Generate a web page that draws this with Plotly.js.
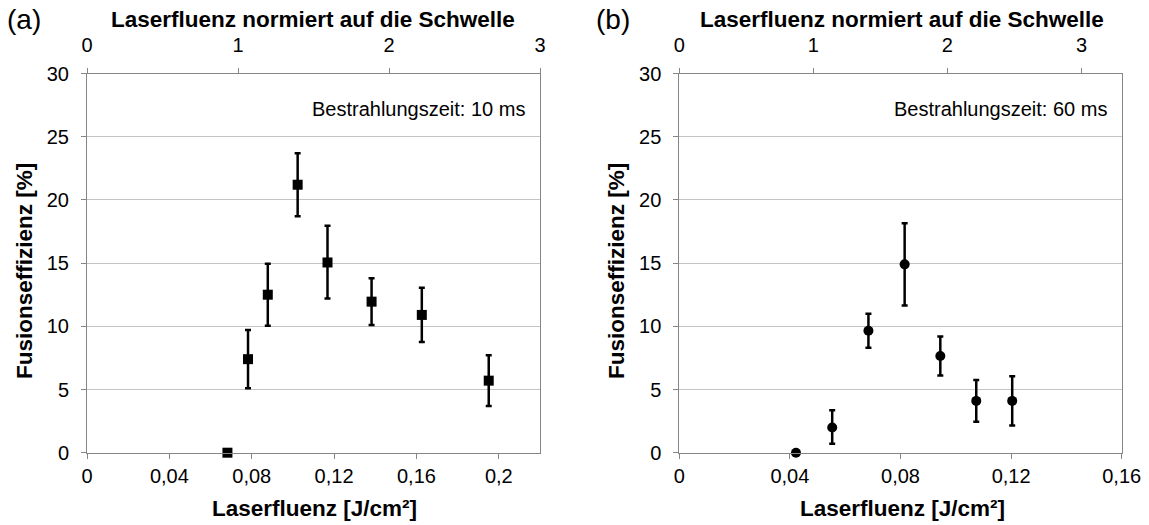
<!DOCTYPE html>
<html>
<head>
<meta charset="utf-8">
<script src="https://cdn.plot.ly/plotly-3.0.1.min.js"></script>
<style>html,body{margin:0;padding:0;background:#fff}#chart{width:1149px;height:525px}</style>
</head>
<body>
<div id="chart"></div>
<script>
// Panel (a): Bestrahlungszeit 10 ms
const fluenceA = [0.0682, 0.0782, 0.0878, 0.1023, 0.1168, 0.1382, 0.1626, 0.1951];
const effA     = [0, 7.4, 12.5, 21.2, 15.05, 11.95, 10.9, 5.7];
const errUpA   = [0, 2.3, 2.45, 2.5, 2.9, 1.85, 2.15, 2.0];
const errDnA   = [0, 2.3, 2.45, 2.5, 2.85, 1.85, 2.15, 2.0];
// Panel (b): Bestrahlungszeit 60 ms
const fluenceB = [0.0422, 0.0553, 0.0684, 0.0815, 0.0944, 0.1074, 0.1204];
const effB     = [0, 2.0, 9.65, 14.9, 7.65, 4.1, 4.1];
const errUpB   = [0, 1.35, 1.35, 3.25, 1.55, 1.65, 1.95];
const errDnB   = [0, 1.3, 1.35, 3.25, 1.55, 1.65, 1.95];

const bottomTickValsA = [0, 0.04, 0.08, 0.12, 0.16, 0.2];
const bottomTickTextA = ["0", "0,04", "0,08", "0,12", "0,16", "0,2"];
const bottomTickValsB = [0, 0.04, 0.08, 0.12, 0.16];
const bottomTickTextB = ["0", "0,04", "0,08", "0,12", "0,16"];
const topTickVals = [0, 1, 2, 3];
const yTickVals = [0, 5, 10, 15, 20, 25, 30];

const FONT = "Liberation Sans, Arial, sans-serif";
const W = 1149, H = 525;
const px = v => v / W;
const py = v => 1 - v / H;

const errStyle = {thickness: 2.5, width: 3, color: "#000"};

const traces = [
  {x: fluenceA, y: effA, type: "scatter", mode: "markers", xaxis: "x", yaxis: "y",
   marker: {symbol: "square", size: 10, color: "#000"},
   error_y: Object.assign({type: "data", symmetric: false, array: errUpA, arrayminus: errDnA}, errStyle),
   cliponaxis: false, showlegend: false, hoverinfo: "skip"},
  {x: [], y: [], type: "scatter", mode: "markers", xaxis: "x2", yaxis: "y", showlegend: false},
  {x: fluenceB, y: effB, type: "scatter", mode: "markers", xaxis: "x3", yaxis: "y2",
   marker: {symbol: "circle", size: 10, color: "#000"},
   error_y: Object.assign({type: "data", symmetric: false, array: errUpB, arrayminus: errDnB}, errStyle),
   cliponaxis: false, showlegend: false, hoverinfo: "skip"},
  {x: [], y: [], type: "scatter", mode: "markers", xaxis: "x4", yaxis: "y2", showlegend: false}
];

const tickFont = {family: FONT, size: 20, color: "#000"};
const axisLine = "#868686";
const gridCol = "#c4c4c4";

function bottomAxis(domain, range, vals, text, anchor) {
  return {domain, range, anchor, side: "bottom", tickvals: vals, ticktext: text,
    showline: true, linecolor: axisLine, linewidth: 1, ticks: "outside", ticklen: 5, tickcolor: axisLine,
    ticklabelstandoff: 0,
    showgrid: false, zeroline: false, tickfont: tickFont, fixedrange: true};
}
function topAxis(domain, range, overlay, anchor) {
  return {domain, range, overlaying: overlay, anchor, side: "top", tickvals: topTickVals,
    showline: true, linecolor: axisLine, linewidth: 1, ticks: "outside", ticklen: 5, tickcolor: axisLine,
    ticklabelstandoff: 8,
    showgrid: false, zeroline: false, tickfont: tickFont, fixedrange: true};
}
function leftAxis(domain, anchor) {
  return {domain, range: [0, 30], anchor, tickvals: yTickVals,
    showline: true, linecolor: axisLine, linewidth: 1, mirror: true,
    ticks: "outside", ticklen: 5, tickcolor: axisLine, ticklabelstandoff: 8,
    showgrid: true, gridcolor: gridCol, gridwidth: 1, zeroline: false, tickfont: tickFont, fixedrange: true};
}

const domXA = [px(87), px(540)];
const domXB = [px(679.3), px(1121.7)];
const domY = [py(452.7), py(73.5)];

const titleFont = {family: FONT, size: 22.5, color: "#000", weight: "bold"};
const noteFont = {family: FONT, size: 20, color: "#000"};
const panelFont = {family: FONT, size: 28, color: "#000"};

const layout = {
  width: W, height: H,
  margin: {l: 0, r: 0, t: 0, b: 0},
  paper_bgcolor: "#fff", plot_bgcolor: "#fff",
  separators: ",.",
  showlegend: false,
  xaxis: bottomAxis(domXA, [0, 0.22], bottomTickValsA, bottomTickTextA, "y"),
  xaxis2: topAxis(domXA, [0, 3], "x", "y"),
  yaxis: leftAxis(domY, "x"),
  xaxis3: bottomAxis(domXB, [0, 0.16], bottomTickValsB, bottomTickTextB, "y2"),
  xaxis4: topAxis(domXB, [0, 3.3], "x3", "y2"),
  yaxis2: leftAxis(domY, "x3"),
  annotations: [
    {text: "(a)", xref: "paper", yref: "paper", x: px(5), y: py(19), xanchor: "left", yanchor: "middle", showarrow: false, font: panelFont},
    {text: "(b)", xref: "paper", yref: "paper", x: px(594), y: py(19), xanchor: "left", yanchor: "middle", showarrow: false, font: panelFont},
    {text: "Laserfluenz normiert auf die Schwelle", xref: "paper", yref: "paper", x: px(312.5), y: py(19), xanchor: "center", yanchor: "middle", showarrow: false, font: titleFont},
    {text: "Laserfluenz normiert auf die Schwelle", xref: "paper", yref: "paper", x: px(902), y: py(19), xanchor: "center", yanchor: "middle", showarrow: false, font: titleFont},
    {text: "Laserfluenz [J/cm²]", xref: "paper", yref: "paper", x: px(314), y: py(508), xanchor: "center", yanchor: "middle", showarrow: false, font: titleFont},
    {text: "Laserfluenz [J/cm²]", xref: "paper", yref: "paper", x: px(902), y: py(508), xanchor: "center", yanchor: "middle", showarrow: false, font: titleFont},
    {text: "Fusionseffizienz [%]", xref: "paper", yref: "paper", x: px(24), y: py(271), xanchor: "center", yanchor: "middle", textangle: -90, showarrow: false, font: titleFont},
    {text: "Fusionseffizienz [%]", xref: "paper", yref: "paper", x: px(616), y: py(271), xanchor: "center", yanchor: "middle", textangle: -90, showarrow: false, font: titleFont},
    {text: "Bestrahlungszeit: 10 ms", xref: "paper", yref: "paper", x: px(527), y: py(108.5), xanchor: "right", yanchor: "middle", showarrow: false, font: noteFont},
    {text: "Bestrahlungszeit: 60 ms", xref: "paper", yref: "paper", x: px(1109), y: py(108.5), xanchor: "right", yanchor: "middle", showarrow: false, font: noteFont}
  ]
};

Plotly.newPlot("chart", traces, layout, {staticPlot: true, displayModeBar: false});
</script>
</body>
</html>
